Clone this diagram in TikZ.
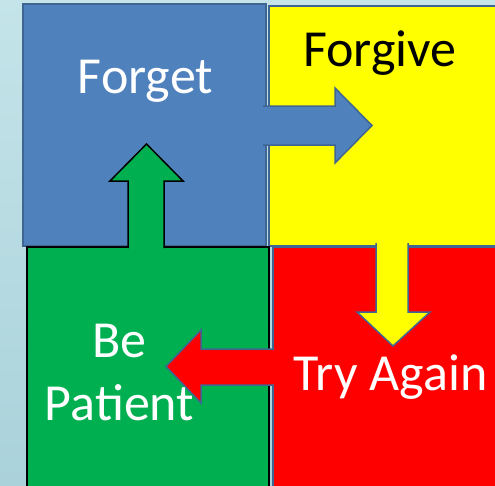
\documentclass[tikz,border=0pt]{standalone}
\usepackage{fontspec}
\setmainfont{Carlito}
\usetikzlibrary{
    positioning,
    calc
}
\definecolor{tileblue}{HTML}{4F81BD}
\definecolor{tileyellow}{HTML}{FFFF00}
\definecolor{tilegreen}{HTML}{00B050}
\definecolor{tilered}{HTML}{FF0000}
\definecolor{edgeblue}{HTML}{3F6592}
\definecolor{bgtop}{RGB}{196,228,233}
\definecolor{bgbottom}{RGB}{170,210,218}
\tikzset{
  tile/.style = {
      draw=edgeblue,
      line width=1.5pt,
      rectangle,
      inner sep=0pt,
      anchor=north west
  },
  pointer/.style = {
      draw=edgeblue,
      line width=1.5pt,
      line join=miter
  },
  word/.style = {
      font=\fontsize{52}{63}\selectfont,
      inner sep=0pt,
      anchor=base,
      align=center
  }
}

\begin{document}
\begin{tikzpicture}[x=1pt, y=-1pt]
    \useasboundingbox (0,0) rectangle (495,485);
    \clip (0,0) rectangle (495,485);
    \shade[top color=bgtop, bottom color=bgbottom] (0,0) rectangle (495,485);
    % Tiles
    \node[tile, fill=tileyellow, minimum width=232pt, minimum height=240pt] (forgivebox) at (268,5) {};
    \node[tile, fill=tileblue, minimum width=243pt, minimum height=242pt] (forgetbox) at (22,3) {};
    \node[tile, fill=tilered, minimum width=228pt, minimum height=243pt] (againbox) at (272,246) {};
    \node[tile, fill=tilegreen, draw=black, line width=2pt, minimum width=242pt, minimum height=243pt] (patientbox) at (26,246) {};
    % Arrows
    \filldraw[pointer, fill=tileblue]
    (263,106) -- (335,106) -- (335,88) -- (372,125.5) -- (335,163) -- (335,145) -- (263,145);
    \filldraw[pointer, fill=tilegreen, draw=black]
    (128,248) -- (128,181) -- (110,181) -- (146.5,144) -- (183,181) -- (164,181) -- (164,248);
    \filldraw[pointer, fill=tileyellow]
    (376,243) -- (376,312) -- (357,312) -- (393,346) -- (430,312) -- (408,312) -- (408,243);
    \filldraw[pointer, fill=tilered]
    (274,349) -- (201,349) -- (201,330) -- (166,366.5) -- (201,403) -- (201,385) -- (274,385);
    % Labels
    \node[word, text=white] (forgetlbl) at (145.5,93) {Forget};
    \node[word] (forgivelbl) at (380,66) {Forgive};
    \node[word, text=white] (patientlbl) at (119.5,420) {Be\\Patient};
    \node[word, text=white] (againlbl) at (390.5,390) {Try Again};
\end{tikzpicture}
\end{document}
